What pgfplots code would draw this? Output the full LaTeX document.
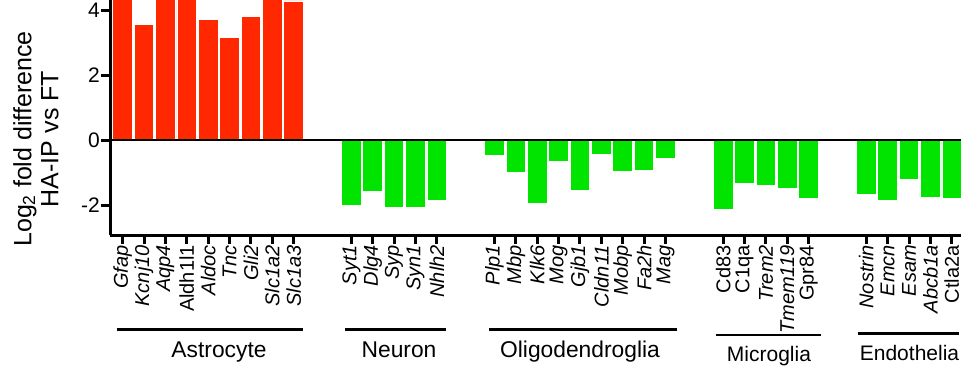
\documentclass[border=0pt]{standalone}
\usepackage{fontspec}
\setmainfont{Liberation Sans}
\usepackage{pgfplots}
\pgfplotsset{compat=1.18}
\definecolor{barred}{RGB}{255,40,0}
\definecolor{bargreen}{RGB}{0,228,0}
\begin{document}
\begin{tikzpicture}
\begin{axis}[
  at={(110pt,-235pt)}, anchor=south west,
  scale only axis, width=851pt, height=235pt,
  xmin=-0.594, xmax=39.23, ymin=-2.92, ymax=4.31,
  axis lines*=left,
  axis line style={line width=3pt},
  clip=false,
  tick align=outside,
  major tick length=9pt,
  tick style={line width=3pt, black},
  /pgf/number format/assume math mode=true,
  ytick={-2,0,2,4},
  yticklabels={-2,0,2,4},
  yticklabel style={font=\fontsize{21}{21}\selectfont, inner sep=1pt},
  xtick={0,1,2,3,4,5,6,7,8,
         10.7,11.7,12.7,13.7,14.7,
         17.4,18.4,19.4,20.4,21.4,22.4,23.4,24.4,25.4,
         28.1,29.1,30.1,31.1,32.1,
         34.8,35.8,36.8,37.8,38.8},
  xticklabels={\textit{Gfap},\textit{Kcnj10},\textit{Aqp4},Aldh1l1,\textit{Aldoc},\textit{Tnc},\textit{Gli2},\textit{Slc1a2},\textit{Slc1a3},
    \textit{Syt1},\textit{Dlg4},\textit{Syp},\textit{Syn1},\textit{Nhlh2},
    \textit{Plp1},\textit{Mbp},\textit{Klk6},\textit{Mog},\textit{Gjb1},\textit{Cldn11},\textit{Mobp},\textit{Fa2h},\textit{Mag},
    Cd83,C1qa,\textit{Trem2},\textit{Tmem119},Gpr84,
    \textit{Nostrin},\textit{Emcn},\textit{Esam},\textit{Abcb1a},Ctla2a},
  xticklabel style={font=\fontsize{20}{20}\selectfont, rotate=90, anchor=east, inner sep=1pt},
]
\addplot[ybar, bar width=0.92, bar shift=0pt, fill=barred, draw=white, line width=0.9pt]
  coordinates {(0,4.6) (1,3.57) (2,4.6) (3,4.6) (4,3.72) (5,3.16) (6,3.80) (7,4.6) (8,4.28)};
\addplot[ybar, bar width=0.92, bar shift=0pt, fill=bargreen, draw=white, line width=0.9pt]
  coordinates {(10.7,-2.02) (11.7,-1.57) (12.7,-2.08) (13.7,-2.08) (14.7,-1.85)
    (17.4,-0.48) (18.4,-0.99) (19.4,-1.95) (20.4,-0.65) (21.4,-1.55) (22.4,-0.43) (23.4,-0.98) (24.4,-0.92) (25.4,-0.58)
    (28.1,-2.12) (29.1,-1.32) (30.1,-1.41) (31.1,-1.49) (32.1,-1.80)
    (34.8,-1.67) (35.8,-1.87) (36.8,-1.22) (37.8,-1.75) (38.8,-1.79)};
\draw[line width=2.8pt] (axis cs:-0.594,0) -- (axis cs:39.23,0);
\end{axis}
\node[rotate=90, align=center, font=\fontsize{25}{27}\selectfont] at (36pt,-139pt) {Log\textsubscript{2} fold difference\\HA-IP vs FT};
\draw[line width=2.4pt] (116.7pt,-329.3pt) -- (303.3pt,-329.3pt);
\draw[line width=2.4pt] (345pt,-329.3pt) -- (446pt,-329.3pt);
\draw[line width=2.4pt] (489pt,-329.3pt) -- (677pt,-329.3pt);
\draw[line width=2.4pt] (715.7pt,-335pt) -- (821pt,-335pt);
\draw[line width=2.4pt] (857.7pt,-333.3pt) -- (959pt,-333.3pt);
\node[anchor=base, inner sep=0pt, font=\fontsize{22.8}{22.8}\selectfont] at (219pt,-357pt) {Astrocyte};
\node[anchor=base, inner sep=0pt, font=\fontsize{22.8}{22.8}\selectfont] at (399pt,-357pt) {Neuron};
\node[anchor=base, inner sep=0pt, font=\fontsize{22.8}{22.8}\selectfont] at (580pt,-357pt) {Oligodendroglia};
\node[anchor=base, inner sep=0pt, font=\fontsize{21}{21}\selectfont] at (769pt,-361pt) {Microglia};
\node[anchor=base, inner sep=0pt, font=\fontsize{21}{21}\selectfont] at (909.5pt,-360pt) {Endothelia};
\pgfresetboundingbox
\path[use as bounding box] (0pt,-367pt) rectangle (961pt,0pt);
\end{tikzpicture}
\end{document}
